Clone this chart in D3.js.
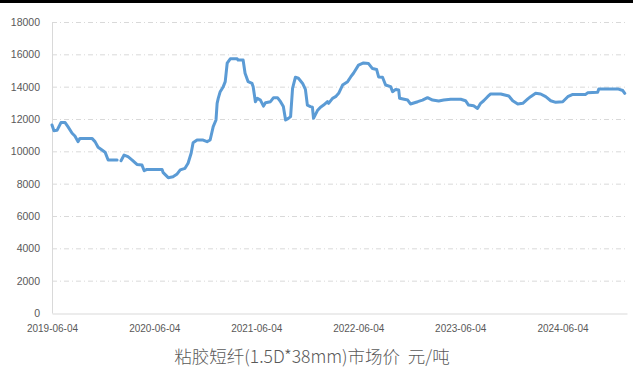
<!DOCTYPE html>
<html><head><meta charset="utf-8">
<script src="https://cdn.jsdelivr.net/npm/d3@7/dist/d3.min.js"></script>
<style>body{margin:0;background:#fff}svg{display:block}</style>
</head><body>
<svg id="c" width="633" height="367"></svg>
<script>
const dates = ["2019-06-04","2019-06-11","2019-06-22","2019-07-06","2019-07-21","2019-07-31","2019-08-15","2019-08-25","2019-09-05","2019-09-12",
"2019-10-25","2019-11-05","2019-11-16","2019-11-30","2019-12-11","2019-12-22","2020-01-23",null,"2020-02-06","2020-02-17",
"2020-03-02","2020-03-17","2020-04-03","2020-04-21","2020-04-29","2020-05-09","2020-07-02","2020-07-06","2020-07-24","2020-08-10",
"2020-08-25","2020-09-05","2020-09-22","2020-10-03","2020-10-14","2020-10-21","2020-11-04","2020-11-26","2020-12-10","2020-12-21",
"2021-01-01","2021-01-11","2021-01-15","2021-01-19","2021-01-26","2021-02-06","2021-02-13","2021-02-20","2021-03-03","2021-03-28",
"2021-03-31","2021-04-18","2021-04-25","2021-05-06","2021-05-20","2021-05-24","2021-06-01","2021-06-08","2021-06-19","2021-06-30",
"2021-07-07","2021-07-25","2021-08-05","2021-08-19","2021-08-30","2021-09-09","2021-09-17","2021-09-27","2021-10-05","2021-10-12",
"2021-10-22","2021-11-02","2021-11-17","2021-11-27","2021-12-04","2021-12-15","2021-12-22","2021-12-26","2022-01-09","2022-01-20",
"2022-01-31","2022-02-14","2022-02-18","2022-03-04","2022-03-15","2022-03-26","2022-04-09","2022-04-27","2022-05-08","2022-05-18",
"2022-06-05","2022-06-23","2022-07-11","2022-07-25","2022-08-09","2022-08-16","2022-08-30","2022-09-10","2022-09-28","2022-10-05",
"2022-10-16","2022-10-27","2022-10-30","2022-11-28","2022-12-08","2023-01-03","2023-01-20","2023-02-07","2023-02-25","2023-03-19",
"2023-04-06","2023-05-01","2023-06-06","2023-06-23","2023-07-04","2023-07-22","2023-08-05","2023-08-16","2023-08-27","2023-09-10",
"2023-09-21","2023-10-27","2023-11-25","2023-12-09","2023-12-27","2024-01-14","2024-02-01","2024-02-11","2024-02-29","2024-03-18",
"2024-04-05","2024-04-23","2024-05-11","2024-06-05","2024-06-23","2024-07-11","2024-08-26","2024-09-02","2024-10-08","2024-10-12",
"2024-12-19","2025-01-06","2025-01-13"];
const prices = [11630,11280,11300,11780,11780,11530,11120,10950,10600,10800,
10800,10600,10250,10080,9950,9460,9460,null,9420,9770,
9670,9460,9190,9150,8800,8880,8880,8680,8370,8430,
8600,8850,8950,9260,9880,10530,10700,10700,10600,10700,
11530,11940,12970,13280,13690,14000,14310,15450,15720,15720,
15650,15650,14830,14310,14200,14000,13070,13280,13170,12800,
13010,13070,13320,13320,13070,12770,11940,12040,12150,13900,
14580,14520,14200,13830,12860,12770,12730,12040,12520,12730,
12860,13070,12970,13280,13380,13590,14100,14310,14600,14830,
15330,15470,15430,15120,15060,14600,14580,14100,14000,13690,
13830,13790,13280,13170,12930,13070,13170,13320,13170,13110,
13170,13220,13220,13130,12860,12820,12650,12970,13130,13380,
13550,13550,13420,13130,12930,12970,13240,13380,13590,13550,
13380,13130,13030,13070,13380,13520,13520,13620,13650,13860,
13860,13760,13590];
const yTicks = [0,2000,4000,6000,8000,10000,12000,14000,16000,18000];
const xTickLabels = ["2019-06-04","2020-06-04","2021-06-04","2022-06-04","2023-06-04","2024-06-04"];
const title = "粘胶短纤(1.5D*38mm)市场价  元/吨";

const parse = d3.timeParse("%Y-%m-%d");
const data = dates.map((d,i)=>({d: d?parse(d):null, v: prices[i]}));

const svg = d3.select("#c");
svg.append("rect").attr("x",0).attr("y",0).attr("width",633).attr("height",3).attr("fill","#000");

const x = d3.scaleTime().domain([parse("2019-06-04"), parse("2025-01-21")]).range([52, 627]);
const y = d3.scaleLinear().domain([0,18000]).range([313,22]);

// gridlines
svg.append("g").selectAll("line").data(yTicks.filter(t=>t>0)).join("line")
  .attr("x1",52).attr("x2",627).attr("y1",d=>y(d)+0.5).attr("y2",d=>y(d)+0.5)
  .attr("stroke","#d9d9d9").attr("stroke-width",1).attr("stroke-dasharray","5,3,1,3");

// y axis
const yAxis = d3.axisLeft(y).tickValues(yTicks).tickSize(0).tickPadding(12).tickFormat(d3.format("d"));
const gy = svg.append("g").attr("transform","translate(52,0)").call(yAxis);
gy.select(".domain").attr("stroke","#d9d9d9");
gy.selectAll("text").attr("fill","#595959").style("font-family","'Liberation Sans',Arial,sans-serif").style("font-size","10.5px");

// x axis
const xAxis = d3.axisBottom(x).tickValues(xTickLabels.map(parse)).tickSize(0).tickPadding(11).tickFormat(d3.timeFormat("%Y-%m-%d"));
const gx = svg.append("g").attr("transform","translate(0,313.5)").call(xAxis);
gx.select(".domain").attr("stroke","#d9d9d9");
gx.selectAll("text").attr("fill","#595959").style("font-family","'Liberation Sans',Arial,sans-serif").style("font-size","10px");

// line
const line = d3.line().defined(d=>d.d && d.v!=null).x(d=>x(d.d)).y(d=>y(d.v));
svg.append("path").datum(data).attr("d",line).attr("fill","none")
  .attr("stroke","#5b9bd5").attr("stroke-width",3).attr("stroke-linejoin","round").attr("stroke-linecap","round");

svg.append("text").attr("x",312).attr("y",363).attr("text-anchor","middle")
  .attr("fill","#595959").style("font-family","'Noto Sans CJK SC',sans-serif").style("font-size","17.5px").style("font-weight","300").attr("xml:space","preserve").style("white-space","pre").text(title);
</script>
</body></html>
